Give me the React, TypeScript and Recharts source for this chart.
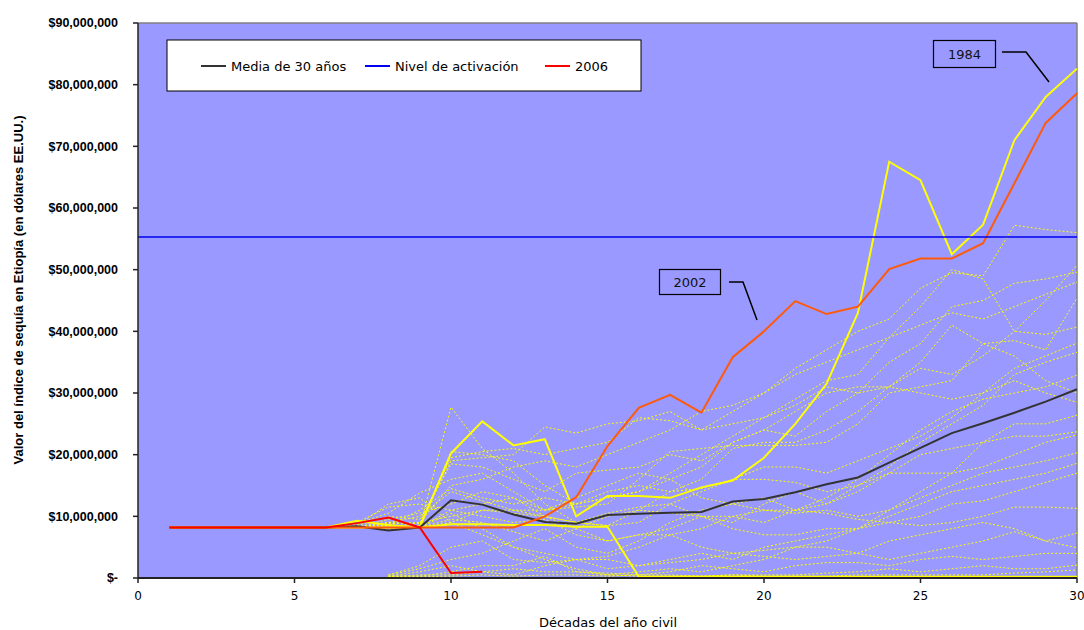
import React from 'react';
import { LineChart, Line, XAxis, YAxis, CartesianGrid, ReferenceLine } from 'recharts';

const M = 1000000;
const decades = [1, 2, 3, 4, 5, 6, 7, 8, 9, 10, 11, 12, 13, 14, 15, 16, 17, 18, 19, 20, 21, 22, 23, 24, 25, 26, 27, 28, 29, 30];
const xTicks = [0, 5, 10, 15, 20, 25, 30];
const yTicks = [0, 10, 20, 30, 40, 50, 60, 70, 80, 90].map((v) => v * M);
const triggerLevel = 55.3;

// values in millions of US$
const media30 = [8.2, 8.2, 8.2, 8.2, 8.2, 8.2, 8.4, 7.7, 8.2, 12.6, 11.9, 10.3, 9.1, 8.8, 10.2, 10.4, 10.6, 10.7, 12.4, 12.8, 13.9, 15.2, 16.3, 18.7, 21.1, 23.5, 25.1, 26.8, 28.6, 30.6];
const y2006 = [8.2, 8.2, 8.2, 8.2, 8.2, 8.2, 8.9, 9.8, 8.2, 0.8, 1.0, null, null, null, null, null, null, null, null, null, null, null, null, null, null, null, null, null, null, null];
const y2002 = [8.2, 8.2, 8.2, 8.2, 8.2, 8.2, 8.2, 8.2, 8.2, 8.2, 8.2, 8.2, 10, 13.1, 21.4, 27.6, 29.7, 26.8, 35.8, 40, 44.9, 42.8, 44, 50.1, 51.8, 51.8, 54.3, 64, 73.8, 78.6];
const y1984 = [8.2, 8.2, 8.2, 8.2, 8.2, 8.2, 9.3, 8.6, 8.2, 20.2, 25.4, 21.5, 22.5, 10, 13.3, 13.3, 13, 14.7, 15.8, 19.5, 25, 31.5, 43, 67.5, 64.5, 52.5, 57.3, 71, 78, 82.6];
const yDry = [8.2, 8.2, 8.2, 8.2, 8.2, 8.2, 8.2, 8.2, 8.2, 8.7, 8.7, 8.6, 8.6, 8.3, 8.3, 0.2, 0.2, 0.2, 0.2, 0.2, 0.2, 0.2, 0.2, 0.2, 0.2, 0.2, 0.2, 0.2, 0.2, 0.2];

const N = null;
const sim01 = [8.2, 8.2, 8.2, 8.2, 8.2, 8.2, 8.2, 8.5, 8.2, 27.7, 21, 17, 12, 9, 8.5, 11, 14, 16, 21, 22, 22, 24, 27, 31, 34, 33, 36, 40, 45, 50.7];
const sim02 = [8.2, 8.2, 8.2, 8.2, 8.2, 8.2, 8.2, 9, 8.8, 19.5, 20.5, 21, 20, 21, 22, 26, 25.5, 24, 27, 30, 34, 37, 40, 42, 47, 49.5, 49, 57.2, 56.5, 56];
const sim03 = [8.2, 8.2, 8.2, 8.2, 8.2, 8.2, 8.2, 8.2, 8.5, 19, 19.5, 20, 24.5, 23.5, 25, 25.5, 27, 24, 25, 26, 29, 32, 33, 39, 44, 50, 48.5, 40, 39.5, 40.7];
const sim04 = [8.2, 8.2, 8.2, 8.2, 8.2, 8.2, 8.5, 10, 9.5, 18.5, 18, 16, 14, 17, 17.5, 18, 20, 19, 22, 24, 23, 27, 30, 35, 38, 44, 45, 47.8, 48.5, 49.6];
const sim05 = [8.2, 8.2, 8.2, 8.2, 8.2, 8.2, 8.8, 10.5, 13.8, 16, 17, 14, 11, 11.5, 12, 16, 20.5, 21, 21.5, 21.5, 21.5, 22, 25, 30, 31, 32, 38, 38.5, 37, 45.4];
const sim06 = [8.2, 8.2, 8.2, 8.2, 8.2, 8.2, 8.2, 9, 10, 14, 12.5, 11, 10, 9, 8.5, 9, 12, 14, 16, 18, 18, 17, 19, 21, 23, 26, 30, 34, 36, 38.1];
const sim07 = [8.2, 8.2, 8.2, 8.2, 8.2, 8.2, 9, 11.5, 12, 11, 10, 9, 9.5, 7, 6, 7, 8, 10, 9, 12, 14, 12, 15, 18, 22, 25, 28, 33, 35, 36.6];
const sim08 = [8.2, 8.2, 8.2, 8.2, 8.2, 8.2, 8.5, 12, 13, 9, 7, 5, 4, 3, 3.5, 5, 7, 8, 10, 9, 11, 13, 16, 20, 24, 27, 29, 30, 31, 32.9];
const sim09 = [8.2, 8.2, 8.2, 8.2, 8.2, 8.2, 8.2, 8.2, 8.2, 11, 12, 13, 11, 12, 14, 15, 14, 14.5, 16, 16, 15.5, 14, 15, 17, 17, 17, 18, 20, 22, 23.2];
const sim10 = [8.2, 8.2, 8.2, 8.2, 8.2, 8.2, 8.2, 8.8, 9, 10, 11, 11, 11, 13, 15, 17, 16, 13, 12, 11, 10.5, 11, 10, 11, 13, 15, 17, 18, 19, 20.3];
const sim11 = [8.2, 8.2, 8.2, 8.2, 8.2, 8.2, 8.2, 8, 8.2, 9.5, 9, 7.5, 6, 8, 10, 11, 10.5, 10, 10, 11, 11, 10.5, 9.5, 9, 10, 12, 12.5, 14, 15.5, 17];
const sim12 = [8.2, 8.2, 8.2, 8.2, 8.2, 8.2, 8.2, 8.2, 8.2, 9, 11, 10.5, 10, 9, 10.5, 11.5, 12, 10, 8, 7, 7, 8, 8, 9, 8.5, 9, 10, 11.5, 11.5, 11.3];
const sim13 = [8.2, 8.2, 8.2, 8.2, 8.2, 8.2, 8.2, 8.5, 8.2, 10.5, 8, 5, 3, 1.5, 0.5, 0.3, 0.3, 0.3, 0.5, 0.3, 0.3, 0.3, 0.5, 0.5, 0.5, 0.5, 0.5, 0.8, 1, 1.3];
const sim14 = [8.2, 8.2, 8.2, 8.2, 8.2, 8.2, 8.2, 9.5, 10.5, 12, 14, 13, 10, 8, 6, 7, 7, 5, 4, 3.5, 3, 3.5, 4, 6, 7, 8, 9, 8, 6, 4.9];
const sim15 = [8.2, 8.2, 8.2, 8.2, 8.2, 8.2, 8.2, 8.5, 11, 14.5, 13, 12, 13, 12, 13, 14, 16, 18, 22, 24, 27, 30, 31, 31, 30, 29, 30, 32, 30, 28.5];
const sim16 = [8.2, 8.2, 8.2, 8.2, 8.2, 8.2, 8.2, 8.2, 8.2, 20.5, 20, 19, 15, 12, 13, 14, 17, 20, 23, 26, 28, 31, 30, 31, 35, 41, 38, 36, 32, 30];
const sim17 = [8.2, 8.2, 8.2, 8.2, 8.2, 8.2, 8.2, 8.2, 9, 15, 16, 18, 19, 18, 20, 22, 24, 27, 28, 30, 33, 35, 37, 39, 41, 43, 42, 44, 46, 48];
const sim18 = [N, N, N, N, N, N, N, 0.3, 1, 2, 1, 0.5, 2, 3, 1.5, 2, 3, 4, 3, 5, 6, 7, 8, 11, 14, 17, 22, 25, 25, 26.4];
const sim19 = [N, N, N, N, N, N, N, 0.5, 1.5, 3, 4, 6, 8, 5, 4, 6, 9, 11, 12, 13, 11, 12, 14, 17, 20, 21, 22, 23, 23, 23.7];
const sim20 = [N, N, N, N, N, N, N, 0.2, 0.5, 0.5, 1, 1.5, 1, 1, 0.5, 1, 1.5, 1, 2, 3, 5, 6, 8, 10, 12, 14, 15, 16, 17, 18.6];
const sim21 = [N, N, N, N, N, N, N, 0.5, 2, 5, 6, 3, 2.5, 3, 3, 2, 2.5, 3, 4, 4.5, 5, 5, 4, 3, 4, 5, 6, 7.5, 6, 7.3];
const sim22 = [N, N, N, N, N, N, N, 0.3, 0.3, 1, 2, 2, 3.5, 1, 0.8, 0.5, 1, 2, 1.5, 1, 2, 2.5, 2.5, 2, 3, 3.5, 3, 3.5, 4, 4];
const sim23 = [N, N, N, N, N, N, N, 0.2, 0.2, 0.3, 0.5, 0.3, 0.5, 0.5, 0.3, 0.5, 0.5, 0.3, 0.5, 0.5, 0.5, 0.8, 1, 1.5, 1, 1.5, 2, 1.5, 1.5, 2.1];

const dashedSeries = [sim01, sim02, sim03, sim04, sim05, sim06, sim07, sim08, sim09, sim10, sim11, sim12, sim13, sim14, sim15, sim16, sim17, sim18, sim19, sim20, sim21, sim22, sim23];

const legendItems = [
  { label: 'Media de 30 años', color: '#333333' },
  { label: 'Nivel de activación', color: '#0000EE' },
  { label: '2006', color: '#FF0000' },
];

const toVal = (v: number | null) => (v == null ? null : v * M);

const rows = decades.map((d, i) => {
  const row: Record<string, number | null> = {
    decade: d,
    media: toVal(media30[i]),
    y2006: toVal(y2006[i]),
    y2002: toVal(y2002[i]),
    y1984: toVal(y1984[i]),
    yDry: toVal(yDry[i]),
  };
  dashedSeries.forEach((s, k) => {
    row['sim' + k] = toVal(s[i]);
  });
  return row;
});

const fmt = (v: number) => (v === 0 ? '$-' : '$' + v.toLocaleString('en-US'));

export default function App() {
  const font = 'DejaVu Sans, Verdana, sans-serif';
  return (
    <div style={{ position: 'absolute', left: 0, top: 0, width: 1084, height: 630, background: '#ffffff' }}>
      <LineChart width={1084} height={630} data={rows} margin={{ top: 23, right: 7, bottom: 22, left: 38 }}>
        <CartesianGrid fill="#9999FF" stroke="none" horizontal={false} vertical={false} />
        <XAxis
          dataKey="decade"
          type="number"
          domain={[0, 30]}
          ticks={xTicks}
          height={30}
          axisLine={{ stroke: '#222', strokeWidth: 2 }}
          tickLine={{ stroke: '#222', strokeWidth: 1.5 }}
          tickSize={5}
          tickMargin={8}
          tick={{ fontSize: 12, fill: '#000', fontFamily: font }}
          interval={0}
        />
        <YAxis
          type="number"
          domain={[0, 90 * M]}
          ticks={yTicks}
          width={100}
          tickFormatter={fmt}
          axisLine={{ stroke: '#222', strokeWidth: 1.5 }}
          tickLine={{ stroke: '#222', strokeWidth: 1.5 }}
          tickSize={5}
          tickMargin={15}
          tick={{ fontSize: 12.5, fill: '#000', fontWeight: 'bold', fontFamily: 'Liberation Sans, Arial, sans-serif' }}
          interval={0}
        />
        <ReferenceLine y={90 * M} stroke="#808080" strokeWidth={1.5} />
        <ReferenceLine x={30} stroke="#808080" strokeWidth={1.5} />
        {dashedSeries.map((_, k) => (
          <Line
            key={k}
            dataKey={'sim' + k}
            stroke="#FFFF00"
            strokeWidth={1}
            strokeDasharray="2 2"
            dot={false}
            activeDot={false}
            isAnimationActive={false}
            connectNulls={false}
          />
        ))}
        <Line dataKey="yDry" stroke="#FFFF00" strokeWidth={2} dot={false} activeDot={false} isAnimationActive={false} />
        <Line dataKey="y1984" stroke="#FFFF00" strokeWidth={2} dot={false} activeDot={false} isAnimationActive={false} />
        <Line dataKey="media" stroke="#333333" strokeWidth={2} dot={false} activeDot={false} isAnimationActive={false} />
        <Line dataKey="y2002" stroke="#FF5A0A" strokeWidth={2} dot={false} activeDot={false} isAnimationActive={false} />
        <Line dataKey="y2006" stroke="#FF0000" strokeWidth={2} dot={false} activeDot={false} isAnimationActive={false} connectNulls={false} />
        <ReferenceLine y={triggerLevel * M} stroke="#0000EE" strokeWidth={1.5} />
      </LineChart>
      <svg width={1084} height={630} style={{ position: 'absolute', left: 0, top: 0, pointerEvents: 'none' }}>
        <rect x={167} y={40} width={474} height={51} fill="#ffffff" stroke="#000" strokeWidth={1} />
        {legendItems.map((it, i) => {
          const xs = [201, 365, 545][i];
          return (
            <g key={it.label}>
              <line x1={xs} y1={66} x2={xs + 25} y2={66} stroke={it.color} strokeWidth={2} />
              <text x={xs + 30} y={70.5} fontSize={13} fontFamily={font} fill="#000">{it.label}</text>
            </g>
          );
        })}
        <rect x={933.5} y={40.5} width={62} height={27} fill="none" stroke="#000" strokeWidth={1.2} />
        <text x={964.5} y={59} fontSize={13} fontFamily={font} textAnchor="middle" fill="#111">1984</text>
        <polyline points="1002,52 1026,52 1049,82" fill="none" stroke="#000" strokeWidth={1.5} />
        <rect x={659.5} y={269.5} width={61} height={25} fill="none" stroke="#000" strokeWidth={1.2} />
        <text x={690} y={287} fontSize={13} fontFamily={font} textAnchor="middle" fill="#111">2002</text>
        <polyline points="729,282 743,282 757,320" fill="none" stroke="#000" strokeWidth={1.5} />
        <text x={608} y={627} fontSize={13} fontFamily={font} textAnchor="middle" fill="#000">Décadas del año civil</text>
        <text
          transform="translate(23,290) rotate(-90)"
          fontSize={13}
          fontWeight="bold"
          fontFamily="Liberation Sans, Arial, sans-serif"
          textAnchor="middle"
          fill="#000"
        >
          Valor del índice de sequía en Etiopía (en dólares EE.UU.)
        </text>
      </svg>
    </div>
  );
}
